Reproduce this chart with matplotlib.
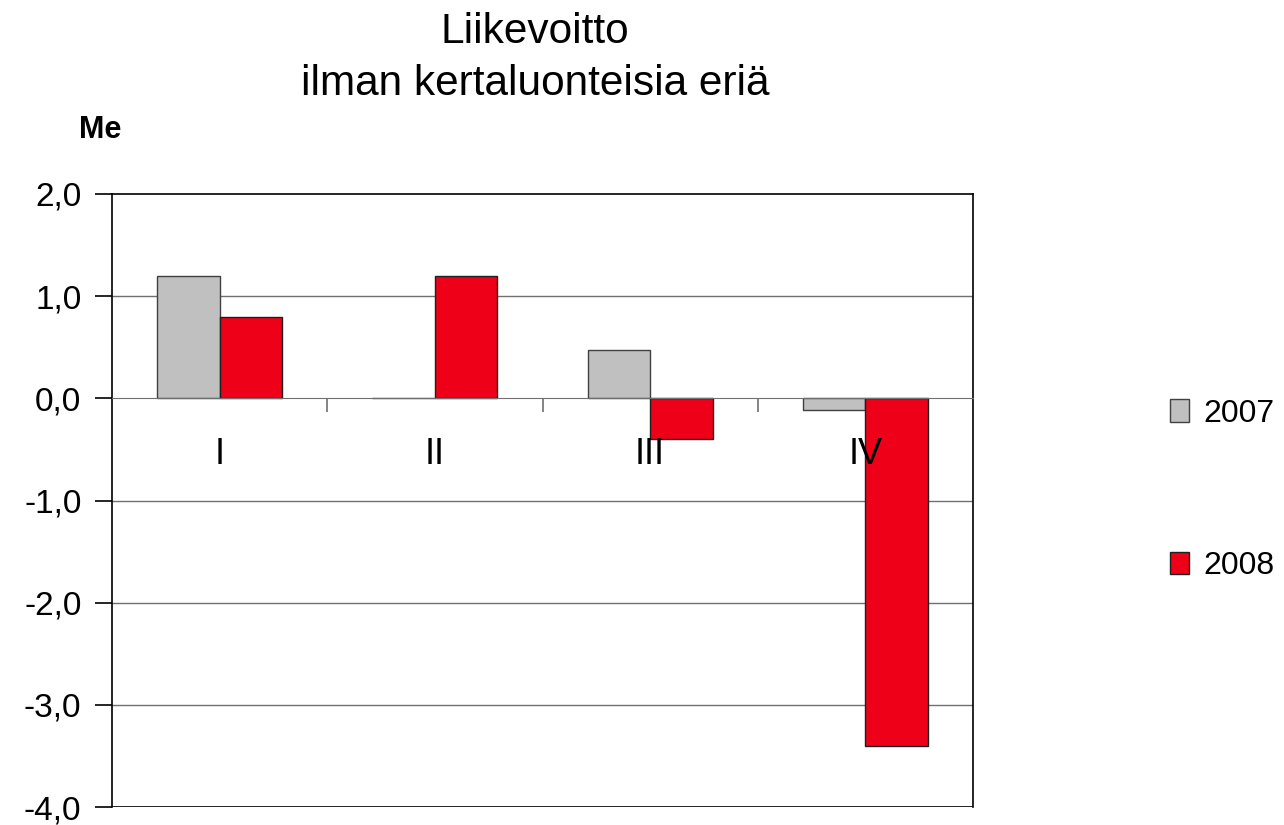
import matplotlib
matplotlib.use("Agg")
import matplotlib.pyplot as plt
import numpy as np

# data
quarters = ["I", "II", "III", "IV"]
years = ["2007", "2008"]
profit_2007 = [1.2, 0.0, 0.47, -0.11]
profit_2008 = [0.8, 1.2, -0.40, -3.4]
yticks = [-4, -3, -2, -1, 0, 1, 2]

plt.rcParams["font.family"] = ["Liberation Sans", "DejaVu Sans"]

fig = plt.figure(figsize=(12.84, 8.25), dpi=100)
ax = fig.add_axes([112 / 1284, 1 - 807 / 825, (973 - 112) / 1284, (807 - 194) / 825])
ax.set_axisbelow(False)

x = np.arange(len(quarters))
w = 0.29
b1 = ax.bar(x - w / 2, profit_2007, w, color="#C0C0C0", edgecolor="#404040", linewidth=1, zorder=2, label=years[0])
b2 = ax.bar(x + w / 2, profit_2008, w, color="#EE0018", edgecolor="#202020", linewidth=1, zorder=2, label=years[1])

ax.set_xlim(-0.5, len(quarters) - 0.5)
ax.set_ylim(yticks[0], yticks[-1])

# gridlines
for v in yticks[1:-1]:
    if v != 0:
        ax.axhline(v, color="#707070", linewidth=1, zorder=1)
ax.axhline(yticks[0], color="black", linewidth=1.2, zorder=4)

# category axis sits on the zero line
ax.spines["bottom"].set_position(("data", 0))
ax.spines["bottom"].set_color("#707070")
for s in ["left", "top", "right"]:
    ax.spines[s].set_color("black")
    ax.spines[s].set_linewidth(1.2)

ax.set_xticks(x[:-1] + 0.5)
ax.set_xticklabels([])
ax.tick_params(axis="x", which="major", direction="out", length=10, color="#707070", width=1.2)
ax.set_xticks(x, minor=True)
ax.set_xticklabels(quarters, minor=True, fontsize=26)
ax.tick_params(axis="x", which="minor", length=0, pad=28)

ax.set_yticks(yticks)
ax.set_yticklabels([f"{v:.1f}".replace(".", ",") for v in yticks], fontsize=24)
ax.tick_params(axis="y", direction="out", length=12, width=1.2, pad=10)

# titles
fig.text(535 / 1284, 1 - 43 / 825, "Liikevoitto", ha="center", va="baseline", fontsize=30.5)
fig.text(535 / 1284, 1 - 95 / 825, "ilman kertaluonteisia eriä", ha="center", va="baseline", fontsize=30.5)
fig.text(79 / 1284, 1 - 138 / 825, "Me", ha="left", va="baseline", fontsize=22, fontweight="bold")

leg = fig.legend(handles=[b1, b2], loc="center left", bbox_to_anchor=(1170 / 1284, 1 - 490 / 825),
                 frameon=False, prop={"size": 23}, borderpad=0, borderaxespad=0,
                 handlelength=0.6, handleheight=0.7, handletextpad=0.44, labelspacing=3.85)

fig.savefig("out.png", dpi=100)
